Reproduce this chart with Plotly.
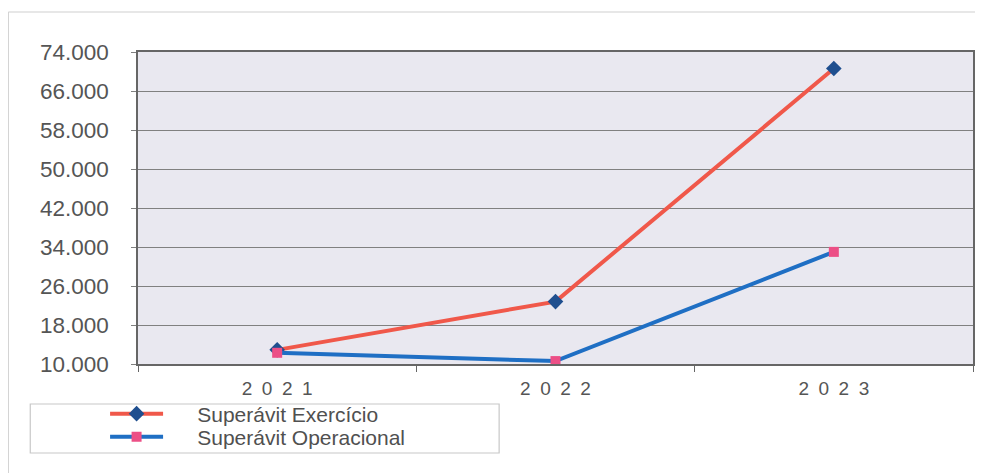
import plotly.graph_objects as go

anos = ["2021", "2022", "2023"]
rotulos_x = ["2\u20020\u20022\u20021", "2\u20020\u20022\u20022", "2\u20020\u20022\u20023"]
superavit_exercicio = [12900, 22800, 70600]
superavit_operacional = [12300, 10600, 33000]
y_ticks = [10000, 18000, 26000, 34000, 42000, 50000, 58000, 66000, 74000]
nomes = ["Superávit Exercício", "Superávit Operacional"]

# page geometry (browser body has an 8px margin)
PL, PR, PT, PB = 138, 975, 52, 364
W, H = PR - PL, PB - PT


def px(x):
    return (x - PL) / W


def py(y):
    return (PB - y) / H


pad = "\u00a0" * 5

fig = go.Figure()
fig.add_trace(go.Scatter(
    x=anos, y=superavit_exercicio, name=pad + nomes[0],
    mode="lines+markers", legend="legend",
    line=dict(color="#f0584a", width=4),
    marker=dict(symbol="diamond", size=12, color="#1f4f8f"),
))
fig.add_trace(go.Scatter(
    x=anos, y=superavit_operacional, name=pad + nomes[1],
    mode="lines+markers", legend="legend2",
    line=dict(color="#1f6fc4", width=4),
    marker=dict(symbol="square", size=10, color="#ec4f86"),
))

leg_common = dict(
    xanchor="left", yanchor="middle",
    bgcolor="rgba(0,0,0,0)", borderwidth=0,
    font=dict(size=21, color="#505050"),
    itemwidth=53,
)

fig.update_layout(
    width=975, height=465,
    margin=dict(l=130, r=8, t=44, b=109),
    paper_bgcolor="white",
    plot_bgcolor="#e9e8f0",
    separators=",.",
    font=dict(family="Liberation Sans, Arial, sans-serif", color="#555555", size=21),
    showlegend=True,
    legend=dict(x=px(105), y=py(414), **leg_common),
    legend2=dict(x=px(105), y=py(437), **leg_common),
    xaxis=dict(
        type="category", range=[-0.5, 2.5],
        tickmode="array", tickvals=anos, ticktext=rotulos_x,
        showgrid=False, showline=True, linecolor="#666666", linewidth=1.5,
        mirror=True, ticks="outside", tickson="boundaries", ticklen=6,
        tickcolor="#666666", ticklabelstandoff=6,
        tickfont=dict(size=19, color="#555555"),
    ),
    yaxis=dict(
        range=[10000, 74000], tickmode="array", tickvals=y_ticks,
        tickformat=",.0f", showgrid=True, gridcolor="#808080", gridwidth=1,
        showline=True, linecolor="#666666", linewidth=1.5, mirror=True,
        ticks="outside", ticklen=5, tickcolor="#808080",
        ticklabelstandoff=18, zeroline=False,
        tickfont=dict(size=22.5, color="#555555"),
    ),
    shapes=[
        dict(type="rect", xref="paper", yref="paper",
             x0=px(30), x1=px(500), y0=py(453), y1=py(404),
             line=dict(color="#c8c8c8", width=1.2), fillcolor="rgba(0,0,0,0)"),
        dict(type="line", xref="paper", yref="paper",
             x0=px(8), x1=px(983), y0=py(12), y1=py(12),
             line=dict(color="#d0d0d0", width=1.2)),
        dict(type="line", xref="paper", yref="paper",
             x0=px(8), x1=px(8), y0=py(473), y1=py(12),
             line=dict(color="#d0d0d0", width=1.2)),
    ],
)

fig.write_html("out.html")
